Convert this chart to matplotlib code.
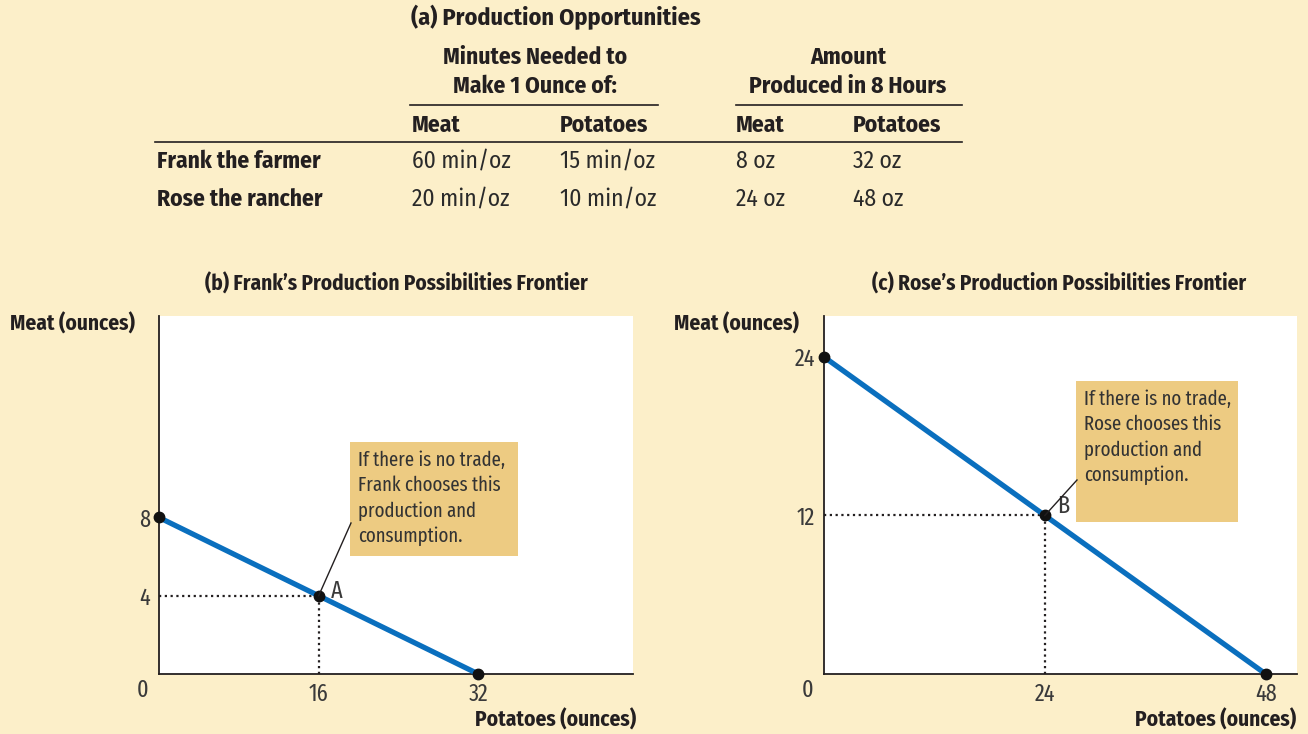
import matplotlib
matplotlib.use("Agg")
import matplotlib.pyplot as plt
from matplotlib import font_manager
from matplotlib.patches import Rectangle
from matplotlib.lines import Line2D

# ---------------- data ----------------
table_title = "(a) Production Opportunities"
group1 = ["Minutes Needed to", "Make 1 Ounce of:"]
group2 = ["Amount", "Produced in 8 Hours"]
col_heads = ["Meat", "Potatoes", "Meat", "Potatoes"]
row_labels = ["Frank the farmer", "Rose the rancher"]
minutes_meat = ["60 min/oz", "20 min/oz"]
minutes_potatoes = ["15 min/oz", "10 min/oz"]
amount_meat = ["8 oz", "24 oz"]
amount_potatoes = ["32 oz", "48 oz"]

frank_potatoes = [0, 16, 32]
frank_meat = [8, 4, 0]
rose_potatoes = [0, 24, 48]
rose_meat = [24, 12, 0]
frank_xticks = [16, 32]
frank_yticks = [4, 8]
rose_xticks = [24, 48]
rose_yticks = [12, 24]

frank_title = "(b) Frank\u2019s Production Possibilities Frontier"
rose_title = "(c) Rose\u2019s Production Possibilities Frontier"
frank_note = "If there is no trade,\nFrank chooses this\nproduction and\nconsumption."
rose_note = "If there is no trade,\nRose chooses this\nproduction and\nconsumption."

# ---------------- fonts ----------------
names = {f.name for f in font_manager.fontManager.ttflist}


def pick(cands):
    for c in cands:
        if c in names:
            return c
    return "DejaVu Sans"


F_MAIN = pick(["Fira Sans Condensed", "Barlow Semi Condensed", "Roboto Condensed",
               "Archivo Narrow", "PT Sans Narrow", "Liberation Sans Narrow"])
F_LIGHT = pick(["Fira Sans Extra Condensed", "Barlow Condensed", "Roboto Condensed",
                "Archivo Narrow", "PT Sans Narrow", "Liberation Sans Narrow"])
plt.rcParams["font.family"] = [F_MAIN, "DejaVu Sans"]

BG = "#FCEFC9"
BOX = "#EDCB82"
BLUE = "#0A6FBE"
TXT = "#231F20"
GREY = "#3A3A3A"

W, H = 1308, 734
fig = plt.figure(figsize=(W / 100, H / 100), dpi=100, facecolor=BG)
renderer = fig.canvas.get_renderer()


def fit_size(s, target, family, weight):
    t = fig.text(0, 0, s, fontsize=20, family=[family, "DejaVu Sans"], fontweight=weight)
    w = t.get_window_extent(renderer).width
    t.remove()
    return 20 * target / w


S_BOLD = fit_size("Frank the farmer", 164, F_MAIN, "bold")
S_REG = fit_size("60 min/oz", 99, F_MAIN, "normal")
S_TTL = fit_size("(a) Production Opportunities", 290, F_MAIN, "bold")
S_PTTL = fit_size(frank_title, 383, F_MAIN, "bold")
S_AX = fit_size("Meat (ounces)", 125, F_MAIN, "bold")
S_NOTE = fit_size("If there is no trade,", 148, F_LIGHT, "normal")
S_TICK = S_NOTE * 1.18
LIGHT = [F_LIGHT, "DejaVu Sans"]


def P(x, y):
    return (x / W, 1 - y / H)


def ftext(x, y, s, **kw):
    kw.setdefault("color", TXT)
    fig.text(*P(x, y), s, **kw)


# ---------------- table ----------------
ftext(556, 17, table_title, ha="center", va="center", fontsize=S_TTL, fontweight="bold")
for i, (a, b) in enumerate(zip(group1, group2)):
    y = 57 + 29 * i
    ftext(535, y, a, ha="center", va="center", fontsize=S_BOLD, fontweight="bold")
    ftext(848, y, b, ha="center", va="center", fontsize=S_BOLD, fontweight="bold")
for (x0, x1, y) in [(410, 658, 105), (736, 962, 105), (155, 962, 142)]:
    fig.add_artist(Line2D([x0 / W, x1 / W], [1 - y / H, 1 - y / H], color=TXT, lw=1.2))
col_x = [412, 560, 736, 853]
for x, s in zip(col_x, col_heads):
    ftext(x, 125, s, ha="left", va="center", fontsize=S_BOLD, fontweight="bold")
row_y = [161, 199]
for i, y in enumerate(row_y):
    ftext(157, y, row_labels[i], ha="left", va="center", fontsize=S_BOLD, fontweight="bold")
    for x, col in zip(col_x, [minutes_meat, minutes_potatoes, amount_meat, amount_potatoes]):
        ftext(x, y, col[i], ha="left", va="center", fontsize=S_REG, color="#2A2A2A")


# ---------------- panels ----------------
def panel(rect, xs, ys, xmax, ymax, xt, yt, title, title_x, ylab_x, xlab_right,
          note, box, lead_end, label, label_off):
    l, t, r, b = rect
    ax = fig.add_axes([l / W, 1 - b / H, (r - l) / W, (b - t) / H])
    ax.set_facecolor("white")
    ax.set_xlim(0, xmax)
    ax.set_ylim(0, ymax)
    for s in ("top", "right"):
        ax.spines[s].set_visible(False)
    for s in ("left", "bottom"):
        ax.spines[s].set_color(TXT)
        ax.spines[s].set_linewidth(1.3)
    ax.set_xticks(xt)
    ax.set_yticks(yt)
    ax.tick_params(axis="x", length=0, labelsize=S_TICK, labelcolor=GREY, pad=6.5)
    ax.tick_params(axis="y", length=0, labelsize=S_TICK, labelcolor=GREY, pad=6.5)
    for lab in ax.get_xticklabels() + ax.get_yticklabels():
        lab.set_family(LIGHT)
    ax.plot(xs, ys, color=BLUE, lw=3.8, solid_capstyle="butt", zorder=3, clip_on=False)
    ax.plot(xs, ys, "o", color="#111111", ms=7.5, zorder=4, clip_on=False)
    mx, my = xs[1], ys[1]
    ax.plot([0, mx], [my, my], color=TXT, lw=1.6, ls=(0, (1, 1.6)), zorder=2)
    ax.plot([mx, mx], [0, my], color=TXT, lw=1.6, ls=(0, (1, 1.6)), zorder=2)
    ax.annotate(label, (mx, my), xytext=label_off, textcoords="offset points",
                fontsize=S_TICK, color=GREY, ha="left", va="baseline", family=LIGHT)
    ax.annotate("0", (0, 0), xytext=(-11.5, -11.5), textcoords="offset points",
                fontsize=S_TICK, color=GREY, ha="center", va="center", family=LIGHT)
    ftext(title_x, 284, title, ha="center", va="center", fontsize=S_PTTL, fontweight="bold")
    ftext(ylab_x, 324, "Meat (ounces)", ha="left", va="center", fontsize=S_AX, fontweight="bold")
    ftext(xlab_right, 720, "Potatoes (ounces)", ha="right", va="center", fontsize=S_AX, fontweight="bold")
    bx0, by0, bx1, by1 = box
    fig.add_artist(Rectangle(P(bx0, by1), (bx1 - bx0) / W, (by1 - by0) / H,
                             facecolor=BOX, edgecolor="none", zorder=5))
    for k, line in enumerate(note.split("\n")):
        ftext(bx0 + 8, by0 + 18 + 25.5 * k, line, ha="left", va="center", fontsize=S_NOTE,
              color="#333333", zorder=6, family=LIGHT)
    px0, py0 = ax.transData.transform((mx, my))
    fig.add_artist(Line2D([px0 / W, lead_end[0] / W], [py0 / H, 1 - lead_end[1] / H],
                          color=TXT, lw=1.0, zorder=6))
    return ax


panel((159, 316, 633, 674), frank_potatoes, frank_meat, 47.5, 18.3, frank_xticks, frank_yticks,
      frank_title, 396, 10, 636, frank_note, (350, 442, 518, 556), (351, 523), "A", (8.5, -1.5))
panel((824, 316, 1297, 674), rose_potatoes, rose_meat, 51.4, 27.1, rose_xticks, rose_yticks,
      rose_title, 1059, 674, 1296, rose_note, (1076, 381, 1238, 522), (1077, 480), "B", (9, 1.5))

fig.savefig("out.png", dpi=100, facecolor=BG)
